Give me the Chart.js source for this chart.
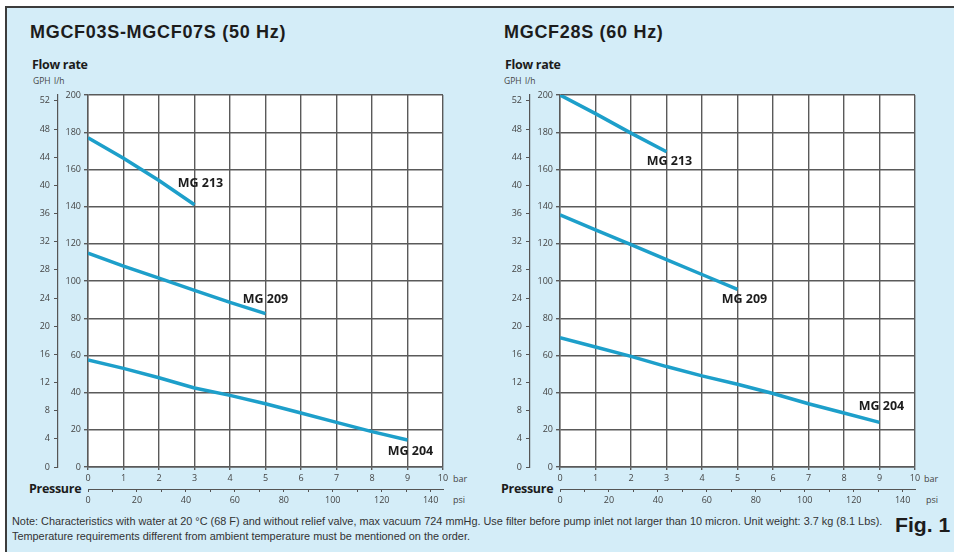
<!DOCTYPE html>
<html>
<head>
<meta charset="utf-8">
<script src="https://cdn.jsdelivr.net/npm/chart.js@4.4.1/dist/chart.umd.min.js"></script>
<style>
  body { margin: 0; width: 954px; height: 552px; background: #fff; overflow: hidden; position: relative; font-family: 'Open Sans', sans-serif; }
  .panel { position: absolute; left: 5px; top: 6px; width: 960px; height: 560px; background: #d4edf8; border-left: 2px solid #3c3c3c; border-top: 2px solid #3c3c3c; }
  .txt { position: absolute; line-height: 1; white-space: nowrap; color: #1c1c1c; }
  .title { font-family: 'Liberation Sans', Arial, sans-serif; font-weight: bold; font-size: 18px; letter-spacing: 0.7px; }
  .flow { font-weight: bold; font-size: 12.5px; letter-spacing: -0.3px; }
  .unit { font-size: 8.5px; color: #444; }
  .small { font-size: 9px; color: #444; }
  .note { font-family: 'Liberation Sans', Arial, sans-serif; font-size: 10.5px; color: #333; transform-origin: 0 0; }
  .fig { font-family: 'Liberation Sans', Arial, sans-serif; font-weight: bold; font-size: 20px; transform-origin: 0 0; }
  .chart { position: absolute; top: 0; }
</style>
</head>
<body>
<div class="panel"></div>

<div class="txt title" style="left:30px; top:23px;">MGCF03S-MGCF07S (50 Hz)</div>
<div class="txt title" style="left:504px; top:23px;">MGCF28S (60 Hz)</div>

<div class="txt flow" style="left:32px; top:59px;">Flow rate</div>
<div class="txt unit" style="left:33px; top:77px;">GPH</div>
<div class="txt unit" style="left:54px; top:77px;">l/h</div>
<div class="txt flow" style="left:505px; top:59px;">Flow rate</div>
<div class="txt unit" style="left:504px; top:77px;">GPH</div>
<div class="txt unit" style="left:525px; top:77px;">l/h</div>

<div class="txt flow" style="left:29px; top:483px;">Pressure</div>
<div class="txt small" style="left:453px; top:474px;">bar</div>
<div class="txt small" style="left:453px; top:495px;">psi</div>
<div class="txt flow" style="left:501px; top:483px;">Pressure</div>
<div class="txt small" style="left:924px; top:474px;">bar</div>
<div class="txt small" style="left:926px; top:495px;">psi</div>

<div class="txt note" id="note1" style="left:12px; top:516px;">Note: Characteristics with water at 20 °C (68 F) and without relief valve, max vacuum 724 mmHg. Use filter before pump inlet not larger than 10 micron. Unit weight: 3.7 kg (8.1 Lbs).</div>
<div class="txt note" id="note2" style="left:12px; top:531px;">Temperature requirements different from ambient temperature must be mentioned on the order.</div>
<div class="txt fig" id="figLabel" style="left:895px; top:515px;">Fig. 1</div>

<div class="chart" style="left:0px;"><canvas id="leftChart" width="477" height="520"></canvas></div>
<div class="chart" style="left:472px;"><canvas id="rightChart" width="477" height="520"></canvas></div>

<script>
// pressure points in bar for each pump curve
const bar213 = [0, 1, 2, 3];
const bar209 = [0, 1, 2, 3, 4, 5];
const bar204 = [0, 1, 2, 3, 4, 5, 6, 7, 8, 9];

// flow rate in l/h, 50 Hz
const flow213At50 = [177, 166, 154, 141];
const flow209At50 = [115, 108, 101.5, 95, 88.5, 82.5];
const flow204At50 = [57.5, 53, 48, 42.5, 38.5, 34, 29, 24, 19, 14.5];

// flow rate in l/h, 60 Hz
const flow213At60 = [200, 190, 179.5, 169.5];
const flow209At60 = [135.5, 127.5, 119.5, 111.5, 103.5, 95.5];
const flow204At60 = [69.5, 64.5, 59.5, 54, 49, 44.5, 39.5, 34, 29, 24];

const litresPerGallon = 3.785;
const psiPerBar = 14.5038;
const barMax = 10;
const flowMax = 200;
const psiLabels = [0, 20, 40, 60, 80, 100, 120, 140];

const lineColor = '#1d9fca';
const gridColor = '#5a5a5a';
const tickFont = { family: 'Open Sans', size: 9 };
const tickColor = '#444';

// squeeze the footnote into a condensed look, like the printed sheet
const condense = (el, targetWidth) => {
  const ratio = targetWidth / el.offsetWidth;
  el.style.transform = 'scaleX(' + ratio + ')';
  return ratio;
};
const noteRatio = condense(document.getElementById('note1'), 870);
document.getElementById('note2').style.transform = 'scaleX(' + noteRatio + ')';
condense(document.getElementById('figLabel'), 55);

const toPoints = (bars, flows) => bars.map((b, i) => ({ x: b, y: flows[i] }));

const plotBackground = {
  id: 'plotBackground',
  beforeDraw(chart) {
    const { ctx, chartArea } = chart;
    ctx.save();
    ctx.fillStyle = '#ffffff';
    ctx.fillRect(chartArea.left, chartArea.top, chartArea.width, chartArea.height);
    ctx.restore();
  },
};

const seriesLabels = {
  id: 'seriesLabels',
  afterDatasetsDraw(chart) {
    const { ctx } = chart;
    chart.data.datasets.forEach((dataset, i) => {
      const meta = chart.getDatasetMeta(i);
      const last = meta.data[meta.data.length - 1];
      ctx.save();
      ctx.font = 'bold 12.5px "Open Sans"';
      ctx.fillStyle = '#1c1c1c';
      ctx.textAlign = 'center';
      ctx.textBaseline = 'middle';
      ctx.fillText(dataset.label, last.x + dataset.labelOffset[0], last.y + dataset.labelOffset[1]);
      ctx.restore();
    });
  },
};

const makeDataset = (label, bars, flows, labelOffset) => ({
  label: label,
  data: toPoints(bars, flows),
  borderColor: lineColor,
  borderWidth: 3.5,
  pointRadius: 0,
  tension: 0,
  fill: false,
  labelOffset: labelOffset,
});

const createPumpChart = (canvasId, datasets) => {
  const canvas = document.getElementById(canvasId);
  return new Chart(canvas, {
    type: 'line',
    data: { datasets: datasets },
    plugins: [plotBackground, seriesLabels],
    options: {
      responsive: false,
      animation: false,
      layout: { padding: { left: 10, right: 34, top: 95, bottom: 11 } },
      plugins: { legend: { display: false }, tooltip: { enabled: false } },
      scales: {
        x: {
          type: 'linear',
          position: 'bottom',
          weight: 0,
          min: 0,
          max: barMax,
          ticks: { stepSize: 1, autoSkip: false, maxRotation: 0, padding: 3, font: tickFont, color: tickColor },
          grid: { color: gridColor, lineWidth: 1.4, tickLength: 3, tickColor: gridColor },
          border: { display: true, color: gridColor, width: 1.4 },
          afterFit: (scale) => { scale.height = 22; },
        },
        psi: {
          type: 'linear',
          position: 'bottom',
          weight: 1,
          min: 0,
          max: barMax * psiPerBar,
          ticks: {
            stepSize: 10,
            includeBounds: false,
            autoSkip: false,
            maxRotation: 0,
            padding: 3,
            font: tickFont,
            color: tickColor,
            callback: (value) => psiLabels.includes(value) ? value : '',
          },
          grid: { drawOnChartArea: false, tickLength: 3, color: '#555', tickColor: '#555' },
          border: { display: true, color: '#555', width: 1 },
          afterFit: (scale) => { scale.height = 20; },
        },
        y: {
          type: 'linear',
          position: 'left',
          weight: 0,
          min: 0,
          max: flowMax,
          ticks: { stepSize: 20, padding: 3, font: tickFont, color: tickColor },
          grid: { color: gridColor, lineWidth: 1.4, tickLength: 4, tickColor: gridColor },
          border: { display: true, color: gridColor, width: 1.4 },
          afterFit: (scale) => { scale.width = 30; },
        },
        gph: {
          type: 'linear',
          position: 'left',
          weight: 1,
          min: 0,
          max: flowMax / litresPerGallon,
          ticks: { stepSize: 4, includeBounds: false, padding: 4, font: tickFont, color: tickColor },
          grid: { drawOnChartArea: false, tickLength: 4, color: '#555', tickColor: '#555' },
          border: { display: true, color: '#555', width: 1.2 },
          afterFit: (scale) => { scale.width = 48; },
        },
      },
    },
  });
};

createPumpChart('leftChart', [
  makeDataset('MG 213', bar213, flow213At50, [6, -21]),
  makeDataset('MG 209', bar209, flow209At50, [0, -14]),
  makeDataset('MG 204', bar204, flow204At50, [3, 11]),
]);

createPumpChart('rightChart', [
  makeDataset('MG 213', bar213, flow213At60, [3, 10]),
  makeDataset('MG 209', bar209, flow209At60, [7, 10]),
  makeDataset('MG 204', bar204, flow204At60, [2, -16]),
]);
</script>
</body>
</html>
